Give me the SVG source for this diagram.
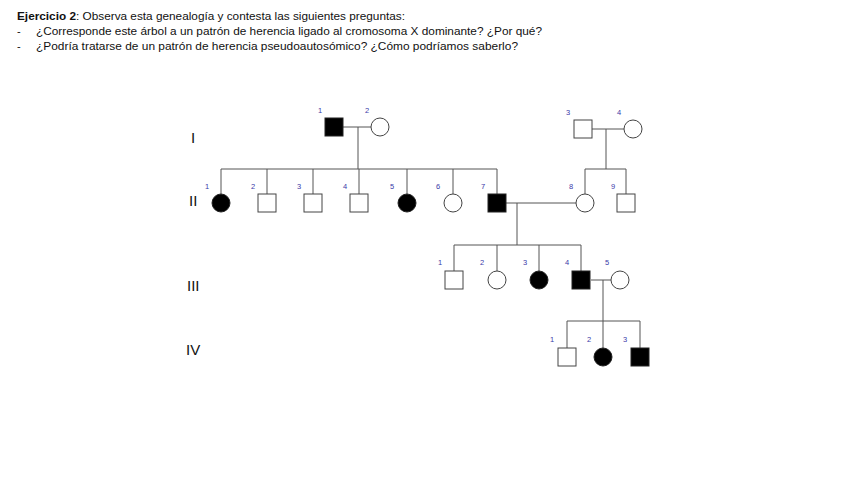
<svg xmlns="http://www.w3.org/2000/svg" width="848" height="477" viewBox="0 0 848 477">
<style>
.hdr{font-family:"Liberation Sans","Noto Sans",sans-serif;font-size:11px;fill:#111}
.gen{font-family:"Liberation Sans","Noto Sans",sans-serif;font-size:15px;fill:#111}
.num{font-family:"Liberation Sans","DejaVu Sans",sans-serif;font-size:7.5px;fill:#3a3aa8}
.ln{stroke:#555;stroke-width:1;fill:none}
.m{fill:#fff;stroke:#444;stroke-width:1}
.a{fill:#000;stroke:#222;stroke-width:1}
</style>
<rect width="848" height="477" fill="#fff"/>
<g id="header">
<text class="hdr" x="17" y="20" textLength="388" lengthAdjust="spacingAndGlyphs"><tspan font-weight="bold">Ejercicio 2</tspan>: Observa esta genealogía y contesta las siguientes preguntas:</text>
<text class="hdr" x="17" y="35">-</text>
<text class="hdr" x="36" y="35" textLength="506" lengthAdjust="spacingAndGlyphs">¿Corresponde este árbol a un patrón de herencia ligado al cromosoma X dominante? ¿Por qué?</text>
<text class="hdr" x="17" y="50">-</text>
<text class="hdr" x="36" y="50" textLength="482" lengthAdjust="spacingAndGlyphs">¿Podría tratarse de un patrón de herencia pseudoautosómico? ¿Cómo podríamos saberlo?</text>
</g>
<g id="generations">
<text class="gen" x="191" y="143">I</text>
<text class="gen" x="189" y="206">II</text>
<text class="gen" x="187" y="291">III</text>
<text class="gen" x="186" y="355">IV</text>
</g>
<g id="connectors" class="ln">
<path d="M343 127H371M358 127V169M221 169H497M221 169V194M267 169V194M313 169V194M359 169V194M407 169V194M453 169V194M497 169V194"/>
<path d="M592 129H624M606 129V169M585 169H626M585 169V194M626 169V194"/>
<path d="M506 203H576M517 203V245M454 245H581M454 245V271M497 245V271M539 245V271M581 245V271"/>
<path d="M591 280H611M603 280V321M567 321H640M567 321V348M603 321V348M640 321V348"/>
</g>
<g id="I-1"><rect class="a" x="325" y="118" width="18" height="18"/><text class="num" x="318" y="113">1</text></g>
<g id="I-2"><circle class="m" cx="380" cy="127" r="9"/><text class="num" x="365" y="113">2</text></g>
<g id="I-3"><rect class="m" x="574" y="120" width="18" height="18"/><text class="num" x="566" y="115">3</text></g>
<g id="I-4"><circle class="m" cx="633" cy="129" r="9"/><text class="num" x="617" y="115">4</text></g>
<g id="II-1"><circle class="a" cx="221" cy="203" r="9"/><text class="num" x="205" y="189">1</text></g>
<g id="II-2"><rect class="m" x="258" y="194" width="18" height="18"/><text class="num" x="251" y="189">2</text></g>
<g id="II-3"><rect class="m" x="304" y="194" width="18" height="18"/><text class="num" x="297" y="189">3</text></g>
<g id="II-4"><rect class="m" x="350" y="194" width="18" height="18"/><text class="num" x="343" y="189">4</text></g>
<g id="II-5"><circle class="a" cx="407" cy="203" r="9"/><text class="num" x="390" y="189">5</text></g>
<g id="II-6"><circle class="m" cx="453" cy="203" r="9"/><text class="num" x="436" y="189">6</text></g>
<g id="II-7"><rect class="a" x="488" y="194" width="18" height="18"/><text class="num" x="481" y="189">7</text></g>
<g id="II-8"><circle class="m" cx="585" cy="203" r="9"/><text class="num" x="569" y="189">8</text></g>
<g id="II-9"><rect class="m" x="617" y="194" width="18" height="18"/><text class="num" x="611" y="189">9</text></g>
<g id="III-1"><rect class="m" x="445" y="271" width="18" height="18"/><text class="num" x="438" y="265">1</text></g>
<g id="III-2"><circle class="m" cx="497" cy="280" r="9"/><text class="num" x="480" y="265">2</text></g>
<g id="III-3"><circle class="a" cx="539" cy="280" r="9"/><text class="num" x="523" y="265">3</text></g>
<g id="III-4"><rect class="a" x="572" y="271" width="18" height="18"/><text class="num" x="565" y="265">4</text></g>
<g id="III-5"><circle class="m" cx="620" cy="280" r="9"/><text class="num" x="605" y="265">5</text></g>
<g id="IV-1"><rect class="m" x="558" y="348" width="18" height="18"/><text class="num" x="550" y="342">1</text></g>
<g id="IV-2"><circle class="a" cx="603" cy="357" r="9"/><text class="num" x="587" y="342">2</text></g>
<g id="IV-3"><rect class="a" x="631" y="348" width="18" height="18"/><text class="num" x="623" y="342">3</text></g>
</svg>
